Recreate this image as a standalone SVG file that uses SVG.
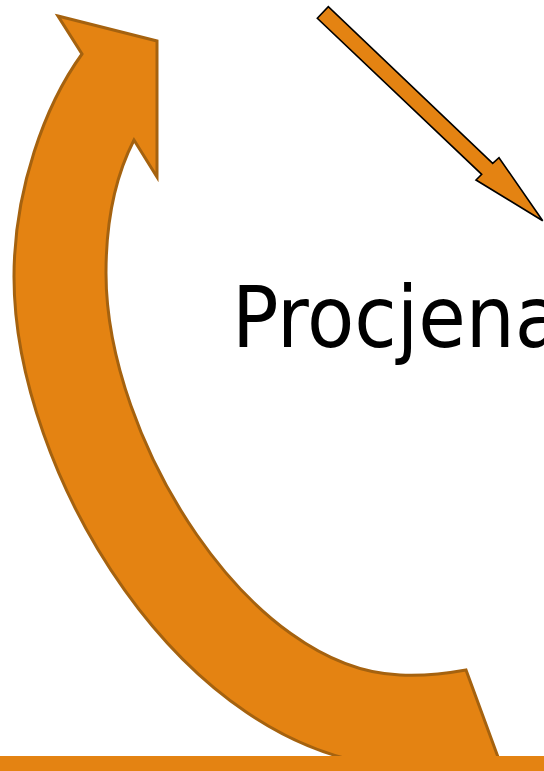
<svg xmlns="http://www.w3.org/2000/svg" width="544" height="771" viewBox="0 0 544 771">
<style>
.big{fill:#E48312;stroke:#A5620F;stroke-width:3;stroke-linejoin:miter}
.small{fill:#E48312;stroke:#000;stroke-width:1.6;stroke-linejoin:miter}
.lbl{font-family:"DejaVu Sans Condensed","DejaVu Sans",sans-serif;font-stretch:condensed;font-size:85px;fill:#000}
</style>
<rect width="544" height="771" fill="#fff"/>
<g id="curved-arrow">
<path class="big" d="M58,16 L157,41 L157,177 L134,140 C116,175 106,220 106,273 C106,440 250,670 400,675 C422,676 444,674 466,670 L498,757 C466,763 433,767 400,767 C180,755 14,470 14,277 C14,190 45,105 82,54 Z"/>
</g>
<g id="connectors">
<path class="small" d="M317.3,18.3 L328.3,6.7 L492.7,163.3 L499,157.7 L542.7,220.7 L476,180 L481.7,174.3 Z"/>
</g>
<g id="label">
<text class="lbl" x="232" y="347" textLength="330" lengthAdjust="spacingAndGlyphs">Procjena</text>
</g>
<rect id="bottom-bar" x="0" y="756" width="544" height="15" fill="#E48312"/>
</svg>
